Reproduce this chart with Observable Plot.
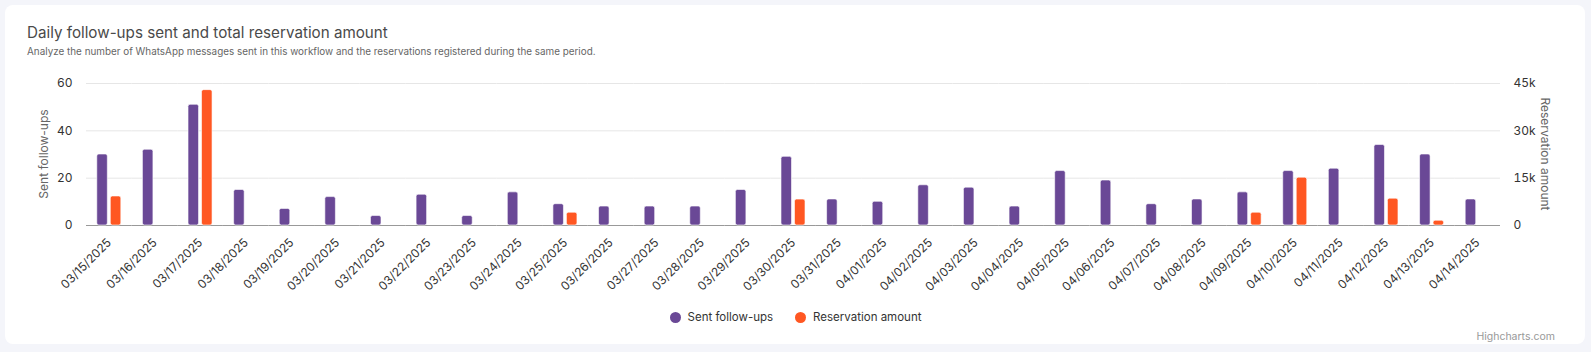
<!DOCTYPE html>
<html>
<head>
<meta charset="utf-8">
<script src="https://cdn.jsdelivr.net/npm/d3@7"></script>
<script src="https://cdn.jsdelivr.net/npm/@observablehq/plot@0.6"></script>
<style>
  html, body { margin: 0; padding: 0; }
  body { width: 1591px; height: 352px; background: #f4f5fa; position: relative; overflow: hidden; font-family: Inter, "Noto Sans", sans-serif; }
  #card { position: absolute; left: 5px; top: 5px; width: 1580px; height: 339px; background: #ffffff; border-radius: 8px; }
  #title { position: absolute; left: 27px; top: 23px; font-size: 15.2px; color: #4a4a4a; white-space: nowrap; }
  #subtitle { position: absolute; left: 27px; top: 45px; font-size: 9.9px; color: #666666; white-space: nowrap; }
  #chart { position: absolute; left: 0; top: 70px; }
  #legend { position: absolute; top: 310px; left: 0; width: 1591px; display: flex; justify-content: center; gap: 22px; font-size: 11.5px; color: #333333; }
  .item { display: flex; align-items: center; gap: 7px; }
  .dot { width: 11px; height: 11px; border-radius: 50%; display: inline-block; }
  #credits { position: absolute; right: 36px; top: 330px; font-size: 10.5px; color: #999999; }
</style>
</head>
<body>
<div id="card"></div>
<div id="title"></div>
<div id="subtitle"></div>
<div id="chart"></div>
<div id="legend"></div>
<div id="credits">Highcharts.com</div>
<script>
const titleText = "Daily follow-ups sent and total reservation amount";
const subtitleText = "Analyze the number of WhatsApp messages sent in this workflow and the reservations registered during the same period.";

const dates = ["03/15/2025","03/16/2025","03/17/2025","03/18/2025","03/19/2025","03/20/2025","03/21/2025","03/22/2025","03/23/2025","03/24/2025","03/25/2025","03/26/2025","03/27/2025","03/28/2025","03/29/2025","03/30/2025","03/31/2025","04/01/2025","04/02/2025","04/03/2025","04/04/2025","04/05/2025","04/06/2025","04/07/2025","04/08/2025","04/09/2025","04/10/2025","04/11/2025","04/12/2025","04/13/2025","04/14/2025"];
const sentFollowUps = [30,32,51,15,7,12,4,13,4,14,9,8,8,8,15,29,11,10,17,16,8,23,19,9,11,14,23,24,34,30,11];
const reservationAmount = [9200,0,42900,0,0,0,0,0,0,0,4050,0,0,0,0,8200,0,0,0,0,0,0,0,0,0,4050,15150,0,8500,1500,0];

const seriesNames = ["Sent follow-ups", "Reservation amount"];
const seriesColors = ["#6a4896", "#ff5722"];
const leftTicks = [0, 20, 40, 60];
const rightTicks = [0, 15000, 30000, 45000];
const rightTickLabels = ["0", "15k", "30k", "45k"];
const leftTitle = "Sent follow-ups";
const rightTitle = "Reservation amount";

document.getElementById("title").textContent = titleText;
document.getElementById("subtitle").textContent = subtitleText;

// map right axis into left-axis units
const ratio = rightTicks[rightTicks.length - 1] / leftTicks[leftTicks.length - 1];

const rows = [];
dates.forEach((d, i) => {
  rows.push({date: d, series: seriesNames[0], value: sentFollowUps[i]});
  rows.push({date: d, series: seriesNames[1], value: reservationAmount[i] / ratio});
});

const W = 1591, H = 230, mT = 13, mB = 75, mL = 86, mR = 91;

const chart = Plot.plot({
  width: W,
  height: H,
  marginTop: mT,
  marginBottom: mB,
  marginLeft: mL,
  marginRight: mR,
  style: {fontFamily: "Inter, sans-serif", fontSize: "11px", color: "#333333", background: "transparent", overflow: "visible"},
  facet: {data: rows, x: "date"},
  fx: {domain: dates, padding: 0, round: false, label: null},
  x: {domain: seriesNames, paddingInner: 0.22, paddingOuter: 0.8, round: false, axis: null},
  y: {domain: [0, leftTicks[leftTicks.length - 1]], axis: null},
  color: {domain: seriesNames, range: seriesColors},
  marks: [
    Plot.gridY(leftTicks, {stroke: "#e6e6e6", strokeOpacity: 1}),
    Plot.ruleY([0], {stroke: "#999999", strokeWidth: 1}),
    Plot.barY(rows, {x: "series", y: "value", fill: "series", stroke: "#ffffff", strokeOpacity: 0.6, strokeWidth: 1, rx: 2}),
    Plot.axisY({anchor: "left", ticks: leftTicks, tickSize: 0, tickPadding: 14, fontSize: 12, label: null}),
    Plot.axisY({anchor: "right", ticks: leftTicks, tickSize: 0, tickPadding: 13, fontSize: 12,
      tickFormat: d => rightTickLabels[leftTicks.indexOf(d)], label: null}),
    Plot.axisFx({anchor: "bottom", tickRotate: -45, tickSize: 0, tickPadding: 10, dy: 5, label: null, fontSize: 12})
  ]
});
document.getElementById("chart").appendChild(chart);

// axis titles
const svg = d3.select(chart);
const midY = mT + (H - mT - mB) / 2;
svg.append("text")
  .attr("transform", `translate(${mL - 41},${midY}) rotate(-90)`)
  .attr("text-anchor", "middle").attr("dominant-baseline", "middle")
  .attr("fill", "#666666").attr("font-size", 12).attr("font-family", "Inter, sans-serif")
  .text(leftTitle);
svg.append("text")
  .attr("transform", `translate(${W - mR + 44},${midY}) rotate(90)`)
  .attr("text-anchor", "middle").attr("dominant-baseline", "middle")
  .attr("fill", "#666666").attr("font-size", 12).attr("font-family", "Inter, sans-serif")
  .text(rightTitle);

const legend = document.getElementById("legend");
seriesNames.forEach((name, i) => {
  const item = document.createElement("div");
  item.className = "item";
  const dot = document.createElement("span");
  dot.className = "dot";
  dot.style.background = seriesColors[i];
  const label = document.createElement("span");
  label.textContent = name;
  item.appendChild(dot);
  item.appendChild(label);
  legend.appendChild(item);
});
</script>
</body>
</html>
